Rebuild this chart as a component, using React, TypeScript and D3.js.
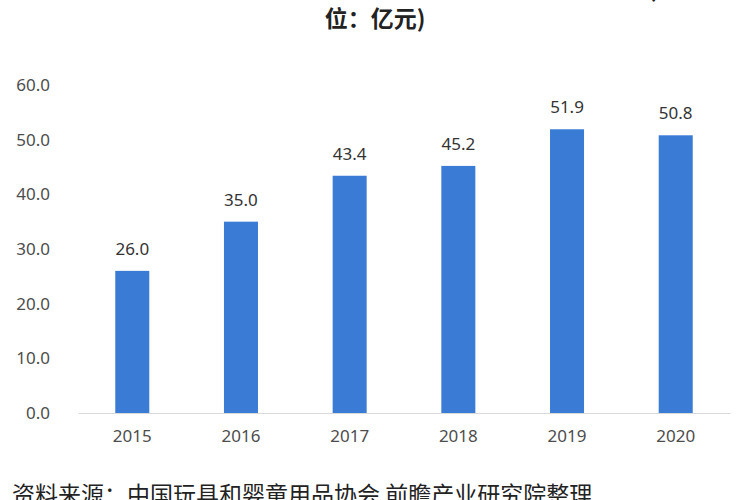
import { useEffect, useRef } from 'react'
import * as d3 from 'd3'

const years = ['2015', '2016', '2017', '2018', '2019', '2020']
const values = [26.0, 35.0, 43.4, 45.2, 51.9, 50.8]
const yTicks = [0, 10, 20, 30, 40, 50, 60]

const titleTop = '图表：2015-2020年中国婴童玩具零售市场规模统计情况(单'
const titleBottom = '位：亿元)'
const source = '资料来源：中国玩具和婴童用品协会 前瞻产业研究院整理'

export default function App() {
  const svgRef = useRef<SVGSVGElement>(null)

  useEffect(() => {
    document.body.style.margin = '0'
    const svgEl = svgRef.current
    if (!svgEl) return

    const width = 750
    const height = 500
    const margin = { top: 85, right: 20, bottom: 87, left: 78 }
    const innerW = 730 - margin.left
    const innerH = height - margin.top - margin.bottom

    const x = d3.scaleBand().domain(years).range([0, innerW]).paddingInner(0.687).paddingOuter(0.343)
    const y = d3.scaleLinear().domain([0, 60]).range([innerH, 0])

    const svg = d3.select(svgEl)
    svg.attr('width', width).attr('height', height).selectAll('*').remove()

    svg.append('rect').attr('width', width).attr('height', height).style('fill', '#fff')

    const cjk = '"Noto Sans CJK SC", "Noto Sans", sans-serif'
    const num = '"Noto Sans", "Open Sans", sans-serif'

    // Title (first line cropped by the frame)
    svg.append('text')
      .attr('x', width / 2).attr('y', -3)
      .attr('text-anchor', 'middle')
      .style('font-family', cjk).style('font-size', '23px').style('font-weight', 'bold')
      .style('fill', '#222')
      .text(titleTop)
    svg.append('text')
      .attr('x', width / 2).attr('y', 27)
      .attr('text-anchor', 'middle')
      .style('font-family', cjk).style('font-size', '23px').style('font-weight', 'bold')
      .style('fill', '#222')
      .text(titleBottom)

    const g = svg.append('g').attr('transform', `translate(${margin.left},${margin.top})`)

    // Y axis labels only
    const yAxisG = g.append('g').attr('transform', 'translate(-25,0)')
    yAxisG.call(d3.axisLeft(y).tickValues(yTicks).tickSize(0).tickFormat(d => d3.format('.1f')(d as number)))
    yAxisG.select('.domain').remove()
    yAxisG.selectAll('text')
      .style('fill', '#4d4d4d')
      .style('font-size', '17px')
      .style('font-family', num)

    // Bars
    g.selectAll('rect.bar')
      .data(values)
      .join('rect')
      .attr('class', 'bar')
      .attr('x', (_, i) => x(years[i])!)
      .attr('width', x.bandwidth())
      .attr('y', d => y(d))
      .attr('height', d => innerH - y(d))
      .style('fill', '#3a7bd5')

    // Value labels
    g.selectAll('text.val')
      .data(values)
      .join('text')
      .attr('class', 'val')
      .attr('x', (_, i) => x(years[i])! + x.bandwidth() / 2)
      .attr('y', d => y(d) - 16)
      .attr('text-anchor', 'middle')
      .style('fill', '#333')
      .style('font-size', '17px')
      .style('font-family', num)
      .text(d => d.toFixed(1))

    // X axis
    const xAxisG = g.append('g').attr('transform', `translate(0,${innerH})`)
    xAxisG.call(d3.axisBottom(x).tickSize(0).tickPadding(17))
    xAxisG.select('.domain').style('stroke', '#d9d9d9')
    xAxisG.selectAll('text')
      .style('fill', '#4d4d4d')
      .style('font-size', '17px')
      .style('font-family', num)

    // Source
    svg.append('text')
      .attr('x', 12).attr('y', 503)
      .style('font-family', cjk).style('font-size', '23px')
      .style('fill', '#222')
      .text(source)
  }, [])

  return <svg ref={svgRef} style={{ display: 'block' }} />
}
